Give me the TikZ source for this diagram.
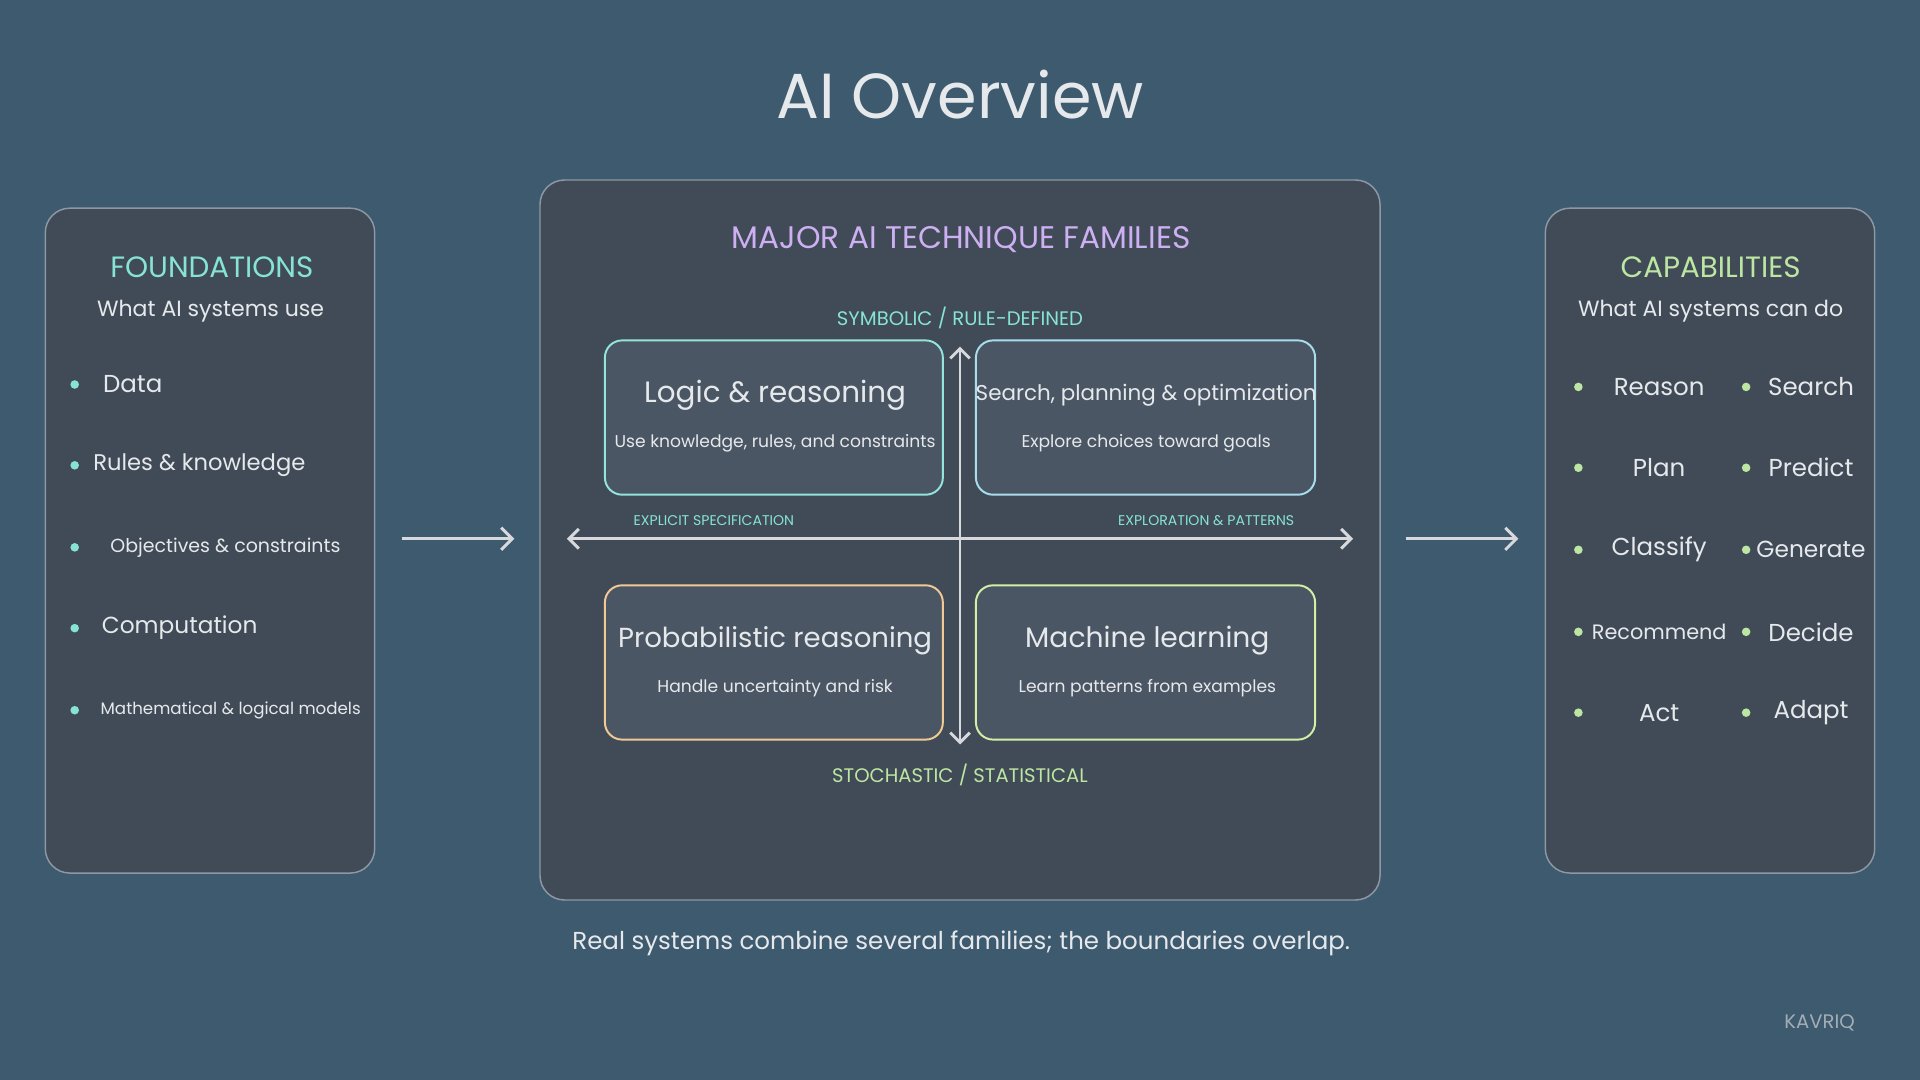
\documentclass[tikz,border=0pt]{standalone}
\usepackage{fontspec}
\setmainfont{Poppins}
\usetikzlibrary{arrows.meta}
\usetikzlibrary{positioning}
\definecolor{bg}{HTML}{3E5A6F}
\definecolor{panel}{HTML}{414B57}
\definecolor{boxfill}{HTML}{4B5664}
\definecolor{rim}{HTML}{8C98A4}
\definecolor{cyantxt}{HTML}{86E3D6}
\definecolor{purptxt}{HTML}{CDB0F2}
\definecolor{greentxt}{HTML}{BDE6A2}
\definecolor{softtxt}{HTML}{E6E9EC}
\definecolor{logicrim}{HTML}{93E4DA}
\definecolor{searchrim}{HTML}{A9DDEE}
\definecolor{probrim}{HTML}{F1C995}
\definecolor{mlrim}{HTML}{D3EFA6}
\newcommand{\fsz}[1]{\fontsize{#1}{#1}\selectfont}
\tikzset{
  panel/.style={draw=rim, line width=1.2pt, fill=panel, rounded corners=20pt},
  family/.style={draw=#1, line width=1.6pt, fill=boxfill, rounded corners=14pt},
  txt/.style={text=softtxt, inner sep=0pt},
  dot/.style={circle, fill=#1, inner sep=0pt, minimum size=7pt},
  flow/.style={-{Straight Barb[length=9pt,width=18pt]}, draw=softtxt!85!gray, line width=2.4pt},
  axis/.style={{Straight Barb[length=8pt,width=16pt]}-{Straight Barb[length=8pt,width=16pt]}, draw=softtxt!85!gray, line width=2.4pt},
}
\begin{document}
\begin{tikzpicture}[x=1pt, y=-1pt]
  \fill[bg] (0,0) rectangle (1568,882);
  \useasboundingbox (0,0) rectangle (1568,882);

  \node[txt] (title) at (784,77) {\fsz{52}AI Overview};

  % foundations
  \draw[panel] (37,170) rectangle (306,713);
  \node[txt, text=cyantxt] (fhead) at (173,218) {\fsz{24}FOUNDATIONS};
  \node[txt] (fsub) at (172,254) {\fsz{18}What AI systems use};
  \foreach \y/\x/\s/\t [count=\i] in {314/84/20/Data, 380/76/18.5/Rules \& knowledge,
      447/90/15.5/Objectives \& constraints, 513/83/19/Computation,
      580/82/13.6/Mathematical \& logical models} {
    \node[dot=cyantxt] (fdot\i) at (61,\y) {};
    \node[txt, anchor=west] (fitem\i) at (\x,\y) {\fsz{\s}\t};
  }

  % families
  \draw[panel] (441,147) rectangle (1127,735);
  \node[txt, text=purptxt] (mhead) at (785,196) {\fsz{25.5}MAJOR AI TECHNIQUE FAMILIES};
  \node[txt, text=cyantxt] (symb) at (784,260) {\fsz{16}SYMBOLIC / RULE-DEFINED};
  \node[txt, text=greentxt] (stoch) at (784,633) {\fsz{16}STOCHASTIC / STATISTICAL};

  \draw[family=logicrim] (494,278) rectangle (770,404);
  \draw[family=searchrim] (797,278) rectangle (1074,404);
  \draw[family=probrim] (494,478) rectangle (770,604);
  \draw[family=mlrim] (797,478) rectangle (1074,604);

  \coordinate (vtop) at (784,283);
  \coordinate (vbot) at (784,608);
  \coordinate (hleft) at (463,440);
  \coordinate (hright) at (1105,440);
  \draw[axis] (hleft) -- (hright);
  \draw[axis] (vtop) -- (vbot);
  \node[txt, text=cyantxt] (explicit) at (583,425) {\fsz{11.5}EXPLICIT SPECIFICATION};
  \node[txt, text=cyantxt] (explore) at (985,425) {\fsz{11.5}EXPLORATION \& PATTERNS};

  \node[txt] (logic) at (633,323) {\fsz{24}Logic \& reasoning};
  \node[txt] (logicsub) at (633,362) {\fsz{14}Use knowledge, rules, and constraints};
  \node[txt] (search) at (936,323) {\fsz{17.5}Search, planning \& optimization};
  \node[txt] (searchsub) at (936,362) {\fsz{14}Explore choices toward goals};
  \node[txt] (prob) at (633,523) {\fsz{22.5}Probabilistic reasoning};
  \node[txt] (probsub) at (633,562) {\fsz{14}Handle uncertainty and risk};
  \node[txt] (ml) at (937,523) {\fsz{23}Machine learning};
  \node[txt] (mlsub) at (937,562) {\fsz{14}Learn patterns from examples};

  % capabilities
  \draw[panel] (1262,170) rectangle (1531,713);
  \node[txt, text=greentxt] (chead) at (1397,218) {\fsz{24}CAPABILITIES};
  \node[txt] (csub) at (1397,254) {\fsz{18}What AI systems can do};
  \foreach \y/\a/\sa/\b/\sb [count=\i] in {316/Reason/20/Search/20, 382/Plan/20/Predict/20,
      449/Classify/20/Generate/19, 516/Recommend/17/Decide/20, 582/Act/20/Adapt/20} {
    \node[dot=greentxt] (cdotl\i) at (1289,\y) {};
    \node[txt] (capl\i) at (1355,\y) {\fsz{\sa}\a};
    \node[dot=greentxt] (cdotr\i) at (1426,\y) {};
    \node[txt] (capr\i) at (1479,\y) {\fsz{\sb}\b};
  }

  % flow arrows
  \coordinate (a1s) at (328,440);
  \coordinate (a1e) at (420,440);
  \coordinate (a2s) at (1148,440);
  \coordinate (a2e) at (1240,440);
  \draw[flow] (a1s) -- (a1e);
  \draw[flow] (a2s) -- (a2e);

  \node[txt] (foot) at (785,770) {\fsz{20}Real systems combine several families; the boundaries overlap.};
  \node[txt, text=rim!80!white] (brand) at (1486,835) {\fsz{16}KAVRIQ};
\end{tikzpicture}
\end{document}
